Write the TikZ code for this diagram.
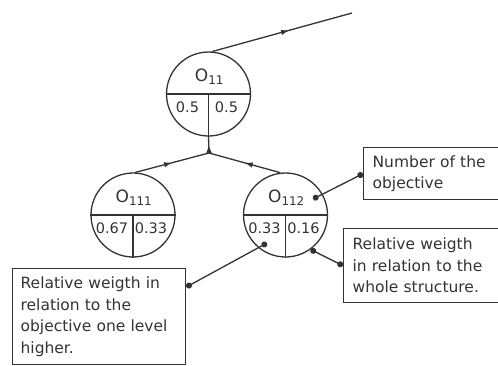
\documentclass[tikz,border=0pt]{standalone}
\usepackage{fontspec}
\setmainfont{DejaVu Sans}
\usetikzlibrary{arrows.meta,decorations.markings}

\begin{document}
\begin{tikzpicture}[x=1pt, y=-1pt, line width=1.3pt, color=black!80,
  obj/.style={draw,circle,minimum size=84pt,inner sep=0pt},
  wt/.style={font=\fontsize{14.5}{16}\selectfont,inner sep=0pt},
  lbl/.style={font=\fontsize{17}{19}\selectfont,inner sep=0pt},
  note/.style={draw,anchor=north west,align=left,inner xsep=9pt,font=\fontsize{15.5}{21.5}\selectfont},
  flow/.style={postaction={decorate},decoration={markings,mark=at position #1 with {\arrow{Latex[length=8pt,width=5.5pt]}}}},
  flow/.default=0.5,
  callout/.style={{Circle[length=6pt]}-{Circle[length=6pt]}}]
\useasboundingbox (0,0) rectangle (498,365);
\clip (0,0) rectangle (498,365);

% objectives
\node[obj] (o11) at (208.5,94) {};
\node[obj] (o111) at (133,215) {};
\node[obj] (o112) at (285.5,215) {};
\foreach \o/\s/\a/\b in {o11/11/0.5/0.5, o111/111/0.67/0.33, o112/112/0.33/0.16} {
  \draw (\o.west) -- (\o.east) (\o.center) -- (\o.south);
  \node[lbl] (\o-t) at ([shift={(1,-17)}]\o.center) {O\textsubscript{\s}};
  \node[wt] (\o-a) at ([shift={(-21,13)}]\o.center) {\a};
  \node[wt] (\o-b) at ([shift={(18,13)}]\o.center) {\b};
}

% links
\coordinate (j) at (209,153);
\coordinate (top) at (352,13);
\draw[flow=0.55] (o11.85) -- (top);
\draw[flow] (j) -- (o11.south);
\draw[flow] (o111.87) -- (j);
\draw[flow] (o112.97) -- (j);

% notes
\node[note,text width=132pt,minimum height=52pt] (num) at (363,147) {Number of the\\objective};
\node[note,text width=150pt,minimum height=74pt] (whole) at (343,228) {Relative weigth\\in relation to the\\whole structure.};
\node[note,text width=157pt,inner xsep=8pt,minimum height=96pt] (higher) at (12,268) {Relative weigth in\\relation to the\\objective one level\\higher.};

\draw[callout] ([shift={(27.5,-16)}]o112.center) -- (num.west);
\draw[callout] ([shift={(-18.5,28)}]o112.center) -- ([yshift=-19pt]higher.north east);
\draw[callout] (o112.-54) -- (whole.west);
\end{tikzpicture}
\end{document}
